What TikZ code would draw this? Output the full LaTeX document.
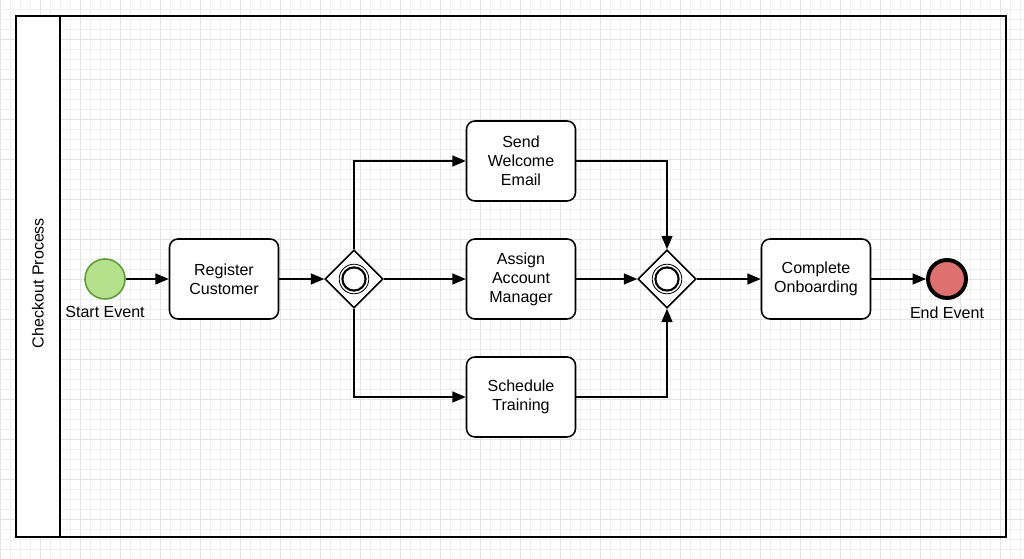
\documentclass[tikz,border=0pt]{standalone}
\usepackage{fontspec}
\setmainfont{Liberation Sans}
\usepackage{tikz}
\usetikzlibrary{arrows}
\usetikzlibrary{calc}
\usetikzlibrary{shapes.geometric}

\definecolor{startfill}{HTML}{B5E08C}
\definecolor{startline}{HTML}{5E9A35}
\definecolor{endfill}{HTML}{DF7070}
\definecolor{gridminor}{HTML}{F0F0F0}
\definecolor{gridmajor}{HTML}{E3E3E3}

\begin{document}
\begin{tikzpicture}[->,>=triangle 45,auto,line width=1.2pt,font=\fontsize{11.4}{13.5}\selectfont,
	task node/.style={rectangle,rounded corners=6pt,draw,line width=1.1pt,fill=white,minimum width=2.725cm,minimum height=2cm,align=center},
	gate node/.style={diamond,draw,line width=1.1pt,fill=white,minimum width=1.45cm,minimum height=1.45cm,inner sep=0pt},
	start node/.style={circle,draw=startline,fill=startfill,line width=1.1pt,minimum size=1cm,inner sep=0pt},
	end node/.style={circle,draw,fill=endfill,line width=2.8pt,minimum size=0.95cm,inner sep=0pt}]

				% background and pool
				\useasboundingbox (0,0) rectangle (25.6,13.975);
				\fill[white] (0,0) rectangle (25.6,13.975);
				\draw[-,gridminor,line width=0.35pt] (0,0) grid[step=0.25cm] (25.6,13.975);
				\draw[-,gridmajor,line width=0.35pt] (0,0) grid[step=1cm] (25.6,13.975);
				\fill[white] (0.4,0.55) rectangle (1.5,13.575);
				\draw[-,line width=1.2pt] (0.4,0.55) rectangle (25.15,13.575);
				\draw[-,line width=1.2pt] (1.5,0.55) -- (1.5,13.575);
				\node[rotate=90] (pool) at (0.95,6.9) {Checkout Process};

				\node[start node] (S) at (2.625,7.0) {};
				\node[below] (SL) at ($(S.south)+(0,-0.03)$) {Start Event};
  				\node[task node] (R) [right of = S, node distance=2.975cm] {Register\\Customer};
				\node[gate node] (G1) [right of=R, node distance=3.25cm] {};
				\node[task node] (A) [right of = G1, node distance=4.175cm] {Assign\\Account\\Manager};
				\node[task node] (W) [above of = A, node distance=2.95cm] {Send\\Welcome\\Email};
				\node[task node] (T) [below of = A, node distance=2.95cm] {Schedule\\Training};
				\node[gate node] (G2) [right of = A, node distance=3.65cm] {};
				\node[task node] (C) [right of = G2, node distance=3.725cm] {Complete\\Onboarding};
				\node[end node] (E) [right of = C, node distance=3.275cm] {};
				\node[below] (EL) at ($(E.south)+(0,-0.03)$) {End Event};

				% gateway markers
				\foreach \g in {G1,G2}{
					\draw[-,line width=0.6pt] (\g) circle (0.37cm);
					\draw[-,line width=1.5pt] (\g) circle (0.29cm);
				}

				\draw (S) -- (R);
				\draw (R) -- (G1);
				\draw (G1.north) |- (W);
				\draw (G1) -- (A);
				\draw (G1.south) |- (T);
				\draw (W) -| (G2.north);
				\draw (A) -- (G2);
				\draw (T) -| (G2.south);
				\draw (G2) -- (C);
				\draw (C) -- (E);

    				\end{tikzpicture}
\end{document}
